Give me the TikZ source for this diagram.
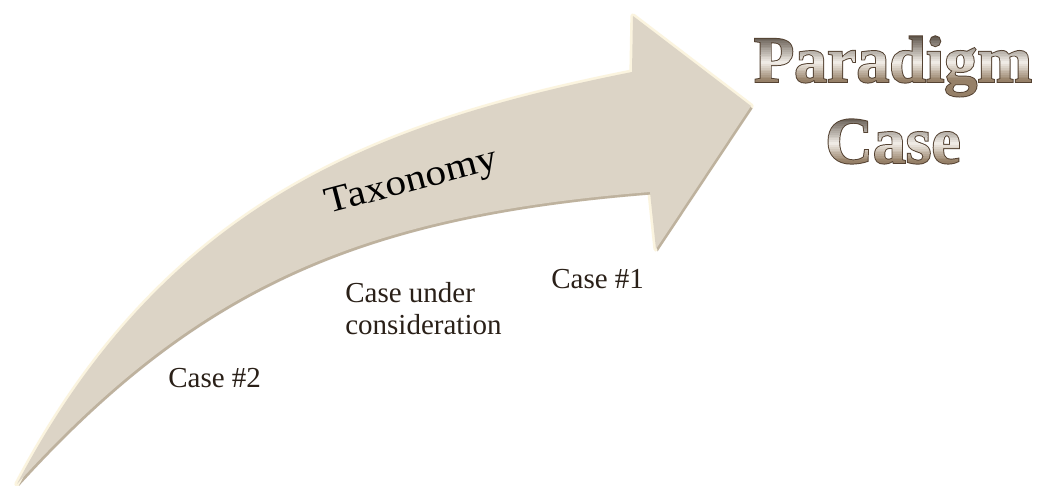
\documentclass[tikz,border=0pt]{standalone}
\usepackage{fontspec}
\setmainfont{Liberation Serif}
\newfontfamily\taxfont[FakeStretch=1.12]{Liberation Serif}
\definecolor{arrowfill}{RGB}{220,212,198}
\definecolor{arrowshadow}{RGB}{140,124,106}
\definecolor{glow}{RGB}{250,240,210}
\definecolor{labeltext}{RGB}{42,32,24}
\definecolor{poutline}{RGB}{84,66,50}
% gradient bands (PDF operators, in bp, relative to the baseline)
\gdef\bandops{}
\foreach \k in {-10,...,27} {
  \pgfmathsetmacro\gt{max(0,min(1,(25.5-\k)/25))}
  \pgfmathsetmacro\ga{min(1,\gt/0.6)}
  \pgfmathsetmacro\gb{max(0,(\gt-0.6)/0.4)}
  \pgfmathsetmacro\bR{(92+\ga*152-\gb*94)/255}
  \pgfmathsetmacro\bG{(82+\ga*158-\gb*112)/255}
  \pgfmathsetmacro\bB{(72+\ga*162-\gb*130)/255}
  \xdef\bandops{\bandops\space\bR\space\bG\space\bB\space rg -400 \k\space 460 1.05 re f}
}
\newsavebox\titlebox
\newcommand\gradword[1]{%
  \sbox\titlebox{#1}%
  \special{pdf:literal 2 Tr 1.1 w}%
  \usebox\titlebox
  \special{pdf:literal 7 Tr}%
  \kern-\wd\titlebox
  \usebox\titlebox
  \special{pdf:literal q \bandops\space Q 0 Tr 0.3985 w}%
}
\tikzset{
  caselabel/.style={font=\fontsize{16.5}{20}\selectfont, text=labeltext, inner sep=0pt, anchor=base west},
  ptitle/.style={font=\fontsize{37.5}{44}\selectfont\bfseries, text=poutline, inner sep=0pt, anchor=base},
  taxlabel/.style={font=\taxfont\fontsize{21}{25}\selectfont, text=black, inner sep=0pt, anchor=base, rotate=14.8}
}
\def\arrowpath{(17,484) .. controls (167,199) and (382,122) .. (632,72) -- (633,16) -- (751,106) -- (656,249) -- (650,192) .. controls (360,215) and (197,286) .. (17,484) -- cycle}
\begin{document}
\begin{tikzpicture}[x=0.02cm,y=-0.02cm]
\useasboundingbox (0,0) rectangle (1042,486);
\fill[white] (0,0) rectangle (1042,486);
% arrow
\draw[glow, line width=3pt, line join=round, opacity=.7] \arrowpath;
\fill[arrowshadow, opacity=.55, shift={(1.5,2.5)}] \arrowpath;
\fill[arrowfill] \arrowpath;
% labels
\node[taxlabel] (tax) at (414,191) {Taxonomy};
\node[caselabel] (case1) at (551,289) {Case \#1};
\node[caselabel] (under1) at (345,303) {Case under};
\node[caselabel] (under2) at (345,335) {consideration};
\node[caselabel] (case2) at (168,388) {Case \#2};
% title
\begin{scope}
  \node[ptitle] (paradigm) at (893,82) {\gradword{Paradigm}};
\end{scope}
\begin{scope}
  \node[ptitle] (casetitle) at (893,163) {\gradword{Case}};
\end{scope}
\end{tikzpicture}
\end{document}
